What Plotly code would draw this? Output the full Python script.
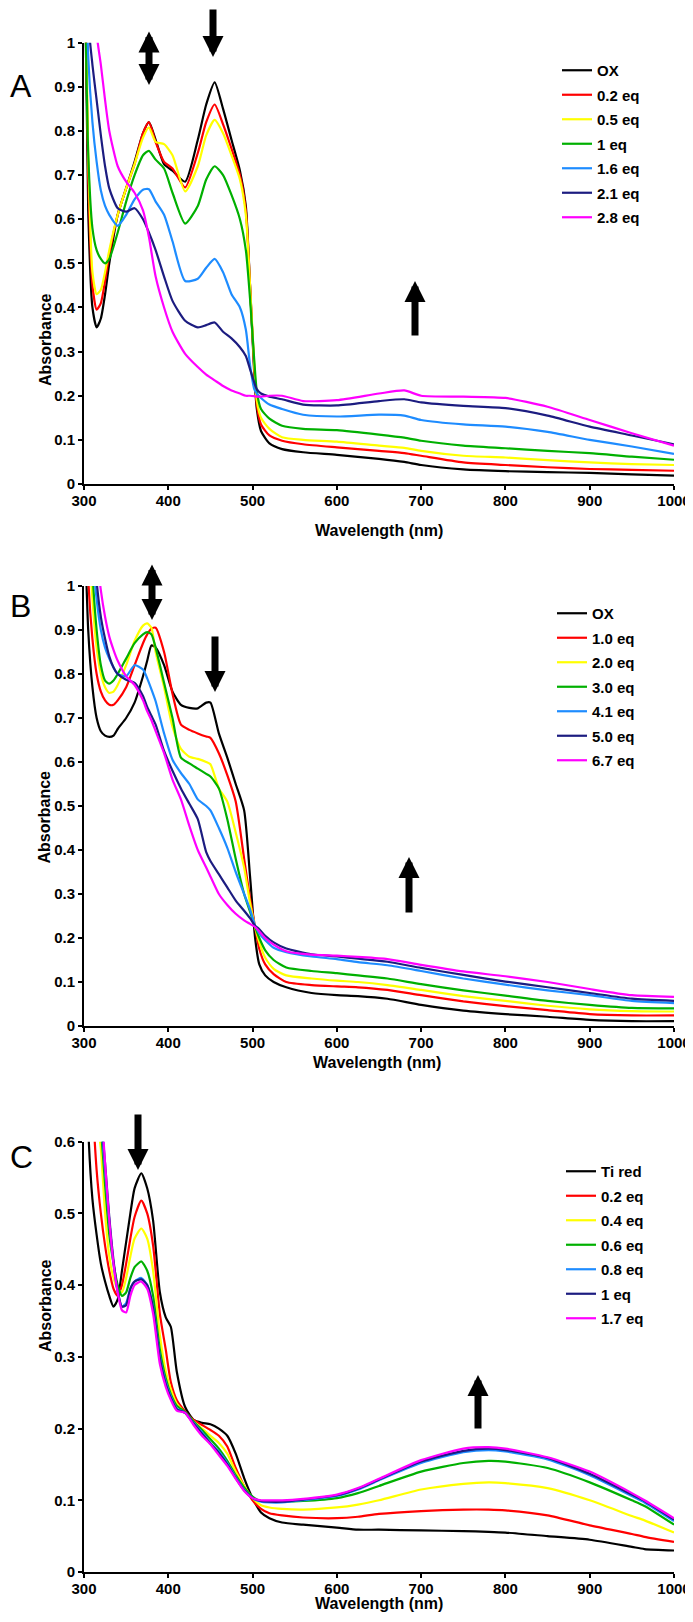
import plotly.graph_objects as go

# ---------- panel A ----------
wl_a = [300, 305, 310, 315, 320, 325, 330, 340, 350, 360, 370, 377, 385, 395, 405, 420, 435, 445, 455,
        465, 475, 485, 492, 497, 502, 505, 510, 520, 535, 560, 600, 650, 680, 700, 750, 800, 850, 900, 950, 1000]
labels_a = ["OX", "0.2 eq", "0.5 eq", "1 eq", "1.6 eq", "2.1 eq", "2.8 eq"]
a_ox = [1.3, 0.62, 0.40, 0.355, 0.375, 0.43, 0.50, 0.61, 0.67, 0.73, 0.795, 0.82, 0.78, 0.725, 0.71, 0.685, 0.78, 0.86, 0.91,
        0.85, 0.78, 0.71, 0.63, 0.45, 0.25, 0.17, 0.12, 0.092, 0.079, 0.072, 0.066, 0.057, 0.05, 0.043, 0.033, 0.029, 0.027, 0.025, 0.022, 0.019]
a_02 = [1.3, 0.7, 0.45, 0.395, 0.41, 0.46, 0.52, 0.61, 0.67, 0.725, 0.795, 0.82, 0.775, 0.73, 0.715, 0.672, 0.75, 0.82, 0.86,
        0.815, 0.76, 0.70, 0.62, 0.45, 0.26, 0.18, 0.135, 0.11, 0.098, 0.09, 0.083, 0.075, 0.07, 0.064, 0.049, 0.043, 0.038, 0.034, 0.032, 0.030]
a_05 = [1.3, 0.75, 0.48, 0.43, 0.44, 0.48, 0.53, 0.61, 0.67, 0.725, 0.785, 0.808, 0.775, 0.77, 0.745, 0.663, 0.72, 0.79, 0.825,
        0.795, 0.745, 0.69, 0.61, 0.45, 0.27, 0.19, 0.15, 0.125, 0.106, 0.10, 0.096, 0.087, 0.082, 0.075, 0.064, 0.06, 0.054, 0.049, 0.045, 0.043]
a_1 = [1.3, 0.75, 0.58, 0.53, 0.51, 0.50, 0.51, 0.57, 0.64, 0.70, 0.745, 0.755, 0.735, 0.715, 0.66, 0.59, 0.63, 0.69, 0.72,
       0.70, 0.655, 0.60, 0.53, 0.42, 0.28, 0.21, 0.17, 0.148, 0.132, 0.125, 0.122, 0.112, 0.105, 0.098, 0.087, 0.081, 0.075, 0.07, 0.062, 0.055]
a_16 = [1.4, 0.97, 0.82, 0.73, 0.665, 0.63, 0.61, 0.585, 0.61, 0.645, 0.667, 0.668, 0.64, 0.61, 0.55, 0.46, 0.465, 0.49, 0.51,
        0.48, 0.43, 0.40, 0.35, 0.27, 0.215, 0.205, 0.195, 0.18, 0.17, 0.157, 0.153, 0.157, 0.155, 0.145, 0.135, 0.13, 0.118, 0.10, 0.085, 0.068]
a_21 = [1.6, 1.05, 0.95, 0.87, 0.79, 0.72, 0.67, 0.625, 0.617, 0.625, 0.60, 0.57, 0.53, 0.47, 0.415, 0.37, 0.355, 0.36, 0.366,
        0.345, 0.33, 0.31, 0.29, 0.26, 0.23, 0.215, 0.205, 0.198, 0.192, 0.18, 0.178, 0.188, 0.192, 0.185, 0.177, 0.172, 0.155, 0.13, 0.11, 0.09]
a_28 = [1.8, 1.5, 1.25, 1.02, 0.95, 0.87, 0.80, 0.72, 0.685, 0.66, 0.62, 0.56, 0.47, 0.40, 0.345, 0.295, 0.265, 0.248, 0.235,
        0.222, 0.212, 0.205, 0.20, 0.20, 0.199, 0.198, 0.198, 0.20, 0.20, 0.188, 0.19, 0.205, 0.212, 0.20, 0.198, 0.195, 0.175, 0.145, 0.115, 0.087]

# ---------- panel B ----------
wl_b = [300, 305, 310, 315, 320, 325, 330, 335, 340, 350, 360, 370, 375, 380, 385, 395, 405, 415, 425, 435, 445, 450,
        460, 470, 480, 490, 497, 503, 508, 515, 525, 540, 570, 600, 625, 660, 700, 750, 800, 850, 900, 950, 1000]
labels_b = ["OX", "1.0 eq", "2.0 eq", "3.0 eq", "4.1 eq", "5.0 eq", "6.7 eq"]
b_ox = [1.2, 0.9, 0.77, 0.70, 0.67, 0.66, 0.657, 0.66, 0.675, 0.70, 0.735, 0.795, 0.83, 0.865, 0.86, 0.82, 0.76, 0.73, 0.723, 0.722, 0.735, 0.735,
        0.665, 0.61, 0.55, 0.49, 0.34, 0.20, 0.14, 0.115, 0.10, 0.088, 0.075, 0.07, 0.068, 0.062, 0.048, 0.035, 0.027, 0.021, 0.014, 0.011, 0.011]
b_10 = [1.5, 1.02, 0.88, 0.80, 0.76, 0.74, 0.73, 0.73, 0.74, 0.77, 0.82, 0.87, 0.89, 0.903, 0.905, 0.85, 0.755, 0.685, 0.673, 0.665, 0.658, 0.655,
        0.62, 0.57, 0.51, 0.38, 0.29, 0.225, 0.175, 0.14, 0.118, 0.10, 0.093, 0.09, 0.088, 0.082, 0.07, 0.056, 0.045, 0.036, 0.027, 0.024, 0.024]
b_20 = [1.6, 1.15, 0.97, 0.86, 0.80, 0.77, 0.757, 0.76, 0.775, 0.82, 0.875, 0.91, 0.915, 0.905, 0.85, 0.77, 0.68, 0.63, 0.612, 0.607, 0.60, 0.595,
        0.54, 0.51, 0.44, 0.36, 0.28, 0.225, 0.19, 0.155, 0.13, 0.115, 0.108, 0.103, 0.10, 0.093, 0.082, 0.068, 0.057, 0.046, 0.038, 0.034, 0.033]
b_30 = [1.7, 1.25, 1.03, 0.90, 0.82, 0.785, 0.778, 0.785, 0.80, 0.835, 0.87, 0.89, 0.895, 0.89, 0.86, 0.78, 0.70, 0.61, 0.597, 0.585, 0.573, 0.567,
        0.54, 0.47, 0.38, 0.30, 0.26, 0.225, 0.20, 0.172, 0.15, 0.133, 0.125, 0.12, 0.115, 0.108, 0.095, 0.081, 0.069, 0.057, 0.048, 0.041, 0.04]
b_41 = [1.8, 1.35, 1.08, 0.97, 0.90, 0.86, 0.835, 0.815, 0.80, 0.795, 0.82, 0.81, 0.79, 0.765, 0.738, 0.665, 0.605, 0.575, 0.55, 0.515, 0.50, 0.49,
        0.45, 0.405, 0.35, 0.30, 0.265, 0.228, 0.21, 0.195, 0.178, 0.168, 0.158, 0.152, 0.145, 0.138, 0.125, 0.108, 0.094, 0.081, 0.07, 0.057, 0.052]
b_50 = [1.9, 1.45, 1.15, 1.01, 0.93, 0.88, 0.84, 0.815, 0.80, 0.787, 0.78, 0.75, 0.725, 0.705, 0.685, 0.625, 0.58, 0.54, 0.505, 0.47, 0.395, 0.375,
        0.345, 0.315, 0.285, 0.262, 0.245, 0.228, 0.22, 0.205, 0.19, 0.176, 0.163, 0.158, 0.153, 0.146, 0.132, 0.116, 0.101, 0.088, 0.075, 0.062, 0.057]
b_67 = [2.0, 1.6, 1.25, 1.08, 0.99, 0.93, 0.885, 0.855, 0.83, 0.795, 0.775, 0.74, 0.715, 0.695, 0.67, 0.62, 0.56, 0.515, 0.455, 0.40, 0.36, 0.34,
        0.30, 0.275, 0.255, 0.24, 0.232, 0.225, 0.215, 0.20, 0.185, 0.17, 0.162, 0.16, 0.157, 0.152, 0.139, 0.124, 0.113, 0.10, 0.084, 0.07, 0.066]

# ---------- panel C ----------
wl_c = [300, 305, 310, 315, 320, 325, 330, 335, 340, 345, 350, 355, 360, 368, 375, 382, 390, 397, 403, 410, 420, 430, 440, 450,
        460, 470, 480, 490, 500, 510, 520, 535, 560, 600, 625, 650, 700, 750, 780, 800, 850, 900, 950, 965, 1000]
labels_c = ["Ti red", "0.2 eq", "0.4 eq", "0.6 eq", "0.8 eq", "1 eq", "1.7 eq"]
c_ti = [0.9, 0.62, 0.52, 0.47, 0.43, 0.405, 0.385, 0.37, 0.38, 0.42, 0.46, 0.50, 0.535, 0.556, 0.535, 0.49, 0.39, 0.355, 0.342, 0.28, 0.23, 0.212, 0.208, 0.206,
        0.20, 0.19, 0.165, 0.131, 0.103, 0.083, 0.075, 0.069, 0.066, 0.062, 0.059, 0.059, 0.058, 0.057, 0.056, 0.055, 0.05, 0.045, 0.035, 0.032, 0.03]
c_02 = [1.0, 0.8, 0.66, 0.56, 0.50, 0.455, 0.42, 0.395, 0.385, 0.40, 0.43, 0.465, 0.495, 0.518, 0.50, 0.455, 0.36, 0.31, 0.265, 0.24, 0.224, 0.212, 0.205, 0.198,
        0.19, 0.175, 0.145, 0.12, 0.10, 0.088, 0.082, 0.079, 0.076, 0.075, 0.077, 0.081, 0.085, 0.087, 0.087, 0.086, 0.079, 0.065, 0.053, 0.049, 0.042]
c_04 = [1.1, 0.85, 0.72, 0.64, 0.59, 0.50, 0.44, 0.41, 0.395, 0.39, 0.41, 0.44, 0.465, 0.479, 0.465, 0.42, 0.33, 0.28, 0.255, 0.235, 0.222, 0.21, 0.20, 0.19,
        0.18, 0.165, 0.14, 0.12, 0.103, 0.093, 0.09, 0.088, 0.087, 0.09, 0.094, 0.10, 0.115, 0.123, 0.125, 0.124, 0.117, 0.10, 0.078, 0.072, 0.055]
c_06 = [1.2, 0.92, 0.78, 0.68, 0.62, 0.54, 0.47, 0.43, 0.40, 0.385, 0.39, 0.41, 0.425, 0.433, 0.42, 0.385, 0.31, 0.27, 0.248, 0.232, 0.223, 0.21, 0.198, 0.185,
        0.172, 0.155, 0.135, 0.118, 0.105, 0.099, 0.098, 0.098, 0.099, 0.103, 0.11, 0.12, 0.14, 0.152, 0.155, 0.154, 0.145, 0.125, 0.10, 0.092, 0.066]
c_08 = [1.25, 0.95, 0.80, 0.70, 0.63, 0.56, 0.49, 0.43, 0.39, 0.37, 0.375, 0.395, 0.405, 0.41, 0.40, 0.37, 0.30, 0.265, 0.245, 0.228, 0.222, 0.208, 0.195, 0.18,
        0.168, 0.152, 0.132, 0.115, 0.103, 0.098, 0.097, 0.097, 0.10, 0.106, 0.115, 0.128, 0.152, 0.167, 0.17, 0.168, 0.157, 0.135, 0.106, 0.097, 0.071]
c_1 = [1.27, 0.97, 0.82, 0.72, 0.64, 0.57, 0.495, 0.435, 0.392, 0.37, 0.372, 0.395, 0.405, 0.408, 0.40, 0.368, 0.298, 0.262, 0.243, 0.227, 0.222, 0.207, 0.193, 0.179,
       0.166, 0.15, 0.131, 0.114, 0.103, 0.099, 0.098, 0.098, 0.101, 0.107, 0.116, 0.129, 0.154, 0.169, 0.172, 0.17, 0.159, 0.137, 0.108, 0.099, 0.073]
c_17 = [1.3, 1.0, 0.85, 0.74, 0.66, 0.57, 0.49, 0.43, 0.39, 0.365, 0.362, 0.385, 0.40, 0.405, 0.395, 0.36, 0.29, 0.258, 0.24, 0.225, 0.222, 0.205, 0.19, 0.178,
        0.163, 0.148, 0.13, 0.113, 0.103, 0.10, 0.10, 0.10, 0.102, 0.108, 0.117, 0.13, 0.156, 0.172, 0.174, 0.172, 0.16, 0.14, 0.11, 0.10, 0.075]

colors = ["#000000", "#ff0000", "#ffff00", "#00b000", "#1e8cff", "#1c1c80", "#ff00ff"]

# page is 693x1622, the html body adds an 8px margin, so the figure itself is a bit smaller
W, H = 693, 1622
OFF = 8
FW, FH = W - OFF, H - OFF
FONT = "Liberation Sans, Arial, sans-serif"

fig = go.Figure()

panels = [
    ("x", "y", "legend", wl_a, [a_ox, a_02, a_05, a_1, a_16, a_21, a_28], labels_a),
    ("x2", "y2", "legend2", wl_b, [b_ox, b_10, b_20, b_30, b_41, b_50, b_67], labels_b),
    ("x3", "y3", "legend3", wl_c, [c_ti, c_02, c_04, c_06, c_08, c_1, c_17], labels_c),
]
for xa, ya, lg, wl, series, labels in panels:
    for i, (vals, name) in enumerate(zip(series, labels)):
        fig.add_trace(go.Scatter(
            x=wl, y=vals, mode="lines", name=name,
            line=dict(color=colors[i], width=2.2, shape="spline", smoothing=0.6),
            xaxis=xa, yaxis=ya, legend=lg, legendgroup=lg + str(i),
        ))

# window pixel -> paper fraction
def px_x(v):
    return (v - OFF) / FW

def px_y(v):
    return 1 - (v - OFF) / FH

axis_common = dict(showline=True, linewidth=2, linecolor="black", ticks="outside", ticklen=4,
                   tickwidth=2, tickcolor="black", showgrid=False, zeroline=False, automargin=False,
                   tickfont=dict(family=FONT, size=15, color="black", weight="bold"))

xdom = [px_x(84), px_x(674)]
ydoms = [[px_y(484), px_y(42.7)], [px_y(1026), px_y(586)], [px_y(1572), px_y(1141.7)]]
yranges = [[0, 1], [0, 1], [0, 0.6]]

layout_axes = {}
for k in range(3):
    sfx = "" if k == 0 else str(k + 1)
    layout_axes["xaxis" + sfx] = dict(domain=xdom, anchor="y" + sfx, range=[300, 1000], dtick=100,
                                      ticklabelstandoff=-2, **axis_common)
    layout_axes["yaxis" + sfx] = dict(domain=ydoms[k], anchor="x" + sfx, range=yranges[k], dtick=0.1, **axis_common)

legend_style = dict(font=dict(family=FONT, size=15, color="black", weight="bold"), bgcolor="rgba(0,0,0,0)",
                    traceorder="grouped", tracegroupgap=2, itemwidth=30, xanchor="left", yanchor="top")

fig.update_layout(
    template="none",
    width=FW, height=FH, margin=dict(l=0, r=0, t=0, b=0, autoexpand=False),
    paper_bgcolor="white", plot_bgcolor="white",
    font=dict(family=FONT, color="black"),
    legend=dict(x=px_x(557), y=px_y(54), **legend_style),
    legend2=dict(x=px_x(552), y=px_y(597), **legend_style),
    legend3=dict(x=px_x(561), y=px_y(1155), **legend_style),
    **layout_axes,
)

annotations = []
# panel letters
for letter, yy in [("A", 66), ("B", 606), ("C", 1177)]:
    annotations.append(dict(text=letter, x=px_x(OFF), y=px_y(yy), xref="paper", yref="paper", xanchor="left",
                            showarrow=False, font=dict(family=FONT, size=32, color="black")))
# axis titles
for xx, yy in [(379, 520), (377, 1062), (379, 1614)]:
    annotations.append(dict(text="Wavelength (nm)", x=px_x(xx), y=px_y(yy), xref="paper", yref="paper",
                            showarrow=False, font=dict(family=FONT, size=16, color="black", weight="bold")))
for xx, yy in [(35, 291), (33, 817), (35, 1354)]:
    annotations.append(dict(text="Absorbance", x=px_x(xx), y=px_y(yy), xref="paper", yref="paper",
                            showarrow=False, textangle=-90,
                            font=dict(family=FONT, size=16, color="black", weight="bold")))

# arrows: (x, head y, tail offset, double)
arrows = [
    (149, 85, -55, True), (213, 57, -50, False), (415, 281, 56, False),
    (152, 620, -57, True), (215, 692, -57, False), (409, 857, 57, False),
    (138, 1170, -57, False), (478, 1375, 55, False),
]
for xx, yy, off, dbl in arrows:
    a = dict(text="", x=px_x(xx), y=px_y(yy), xref="paper", yref="paper", ax=0, ay=off,
             showarrow=True, arrowhead=2, arrowsize=0.6, arrowwidth=7, arrowcolor="black", standoff=0)
    if dbl:
        a.update(arrowside="end+start", startarrowhead=2, startarrowsize=0.6, startstandoff=0)
    annotations.append(a)

fig.update_layout(annotations=annotations)

fig.write_html("out.html")
